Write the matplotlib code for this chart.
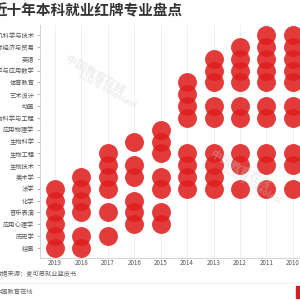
import matplotlib
matplotlib.use("Agg")
import matplotlib.pyplot as plt

plt.rcParams['font.family'] = ['Noto Sans CJK SC', 'DejaVu Sans']

majors = ["计算机科学与技术", "国际经济与贸易", "英语", "数学与应用数学", "体育教育",
          "艺术设计", "动画", "生物科学与工程", "应用物理学", "生物科学", "生物工程",
          "生物技术", "美术学", "法学", "化学", "音乐表演", "应用心理学", "历史学", "绘画"]
years = ["2019", "2018", "2017", "2016", "2015", "2014", "2013", "2012", "2011", "2010"]
red_cards = {
    "2019": ["法学", "化学", "音乐表演", "应用心理学", "历史学", "绘画"],
    "2018": ["美术学", "法学", "化学", "音乐表演", "历史学", "绘画"],
    "2017": ["生物工程", "生物技术", "美术学", "法学", "音乐表演", "历史学"],
    "2016": ["生物科学", "生物技术", "美术学", "化学", "音乐表演", "应用心理学"],
    "2015": ["应用物理学", "生物科学", "生物工程", "美术学", "法学", "音乐表演", "应用心理学"],
    "2014": ["体育教育", "艺术设计", "动画", "生物科学与工程", "生物工程", "生物技术", "美术学", "法学"],
    "2013": ["英语", "数学与应用数学", "体育教育", "动画", "生物科学与工程", "生物工程", "生物技术", "美术学", "法学"],
    "2012": ["国际经济与贸易", "英语", "数学与应用数学", "体育教育", "动画", "生物科学与工程", "生物工程", "生物技术", "法学"],
    "2011": ["计算机科学与技术", "国际经济与贸易", "英语", "数学与应用数学", "体育教育", "动画", "生物科学与工程", "生物工程", "生物技术", "法学"],
    "2010": ["计算机科学与技术", "国际经济与贸易", "英语", "数学与应用数学", "体育教育", "动画", "生物科学与工程", "生物工程", "生物技术", "法学"],
}

fig = plt.figure(figsize=(3, 3), dpi=100)
fig.patch.set_facecolor('white')
ax = fig.add_axes([40/300, 42/300, 266/300, 233/300])

xs, ys = [], []
for xi, y in enumerate(years):
    for m in red_cards[y]:
        xs.append(xi)
        ys.append(majors.index(m))
ax.scatter(xs, ys, s=185, color='#e01e1e', alpha=0.88, linewidths=0, zorder=3)

ax.set_xlim(-0.57, 9.5)
ax.set_ylim(18.85, -0.85)
ax.set_xticks(range(len(years)))
ax.set_xticklabels(years, fontsize=4.5, color='#555555')
ax.set_yticks(range(len(majors)))
ax.set_yticklabels(majors, fontsize=4.5, color='#555555')
ax.tick_params(axis='y', length=2, width=0.5, color='#999999', pad=2)
ax.tick_params(axis='x', length=0, pad=1)
ax.xaxis.grid(True, color='#eeeeee', linewidth=0.6, zorder=0)
ax.set_axisbelow(True)
for s in ['top', 'right']:
    ax.spines[s].set_visible(False)
for s in ['left', 'bottom']:
    ax.spines[s].set_color('#cccccc')
    ax.spines[s].set_linewidth(0.6)

fig.text(-7/300, 0.967, "近十年本科就业红牌专业盘点", fontsize=10.5, fontweight='bold',
         color='#333333', va='center', ha='left')

# watermarks
for (wx, wy) in [(95/300, 1 - 75/300), (240/300, 1 - 170/300)]:
    fig.text(wx, wy, "中国教育在线", fontsize=8, fontweight='bold', color='#cccccc',
             alpha=0.35, rotation=-30, ha='center', va='center')
    fig.text(wx + 0.04, wy - 0.05, "公众号 eoleoleol", fontsize=6, fontweight='bold',
             color='#cccccc', alpha=0.35, rotation=-30, ha='center', va='center')

fig.text(-4/300, 1 - 274/300, "数据来源：麦可思就业蓝皮书", fontsize=4.5, color='#666666',
         va='center', ha='left')
fig.add_artist(plt.Line2D([0, 1], [1 - 283/300, 1 - 283/300], color='#eeeeee', linewidth=0.6))
fig.text(-5/300, 1 - 292/300, "中国教育在线", fontsize=4.5, color='#666666',
         va='center', ha='left')
fig.add_artist(plt.Rectangle((296/300, 1 - 298/300), 6/300, 12/300, color='#cc2222'))

fig.savefig("out.png", dpi=100)
